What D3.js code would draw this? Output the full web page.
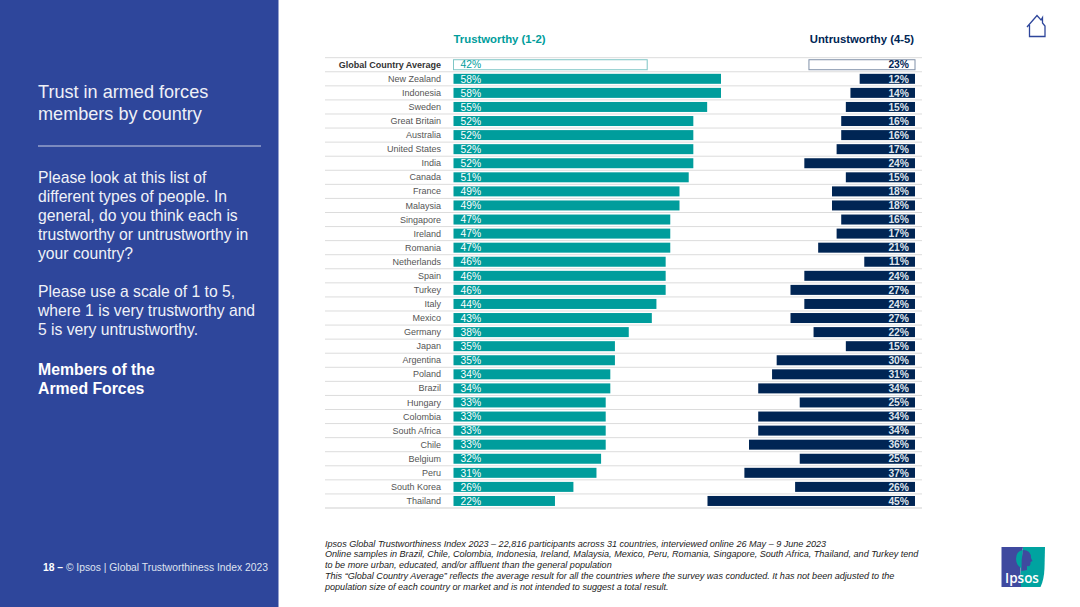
<!DOCTYPE html>
<html><head><meta charset="utf-8">
<script src="https://cdn.jsdelivr.net/npm/d3@7"></script>
<style>html,body{margin:0;padding:0;background:#fff}svg{display:block;font-family:"Liberation Sans",Arial,sans-serif}</style>
</head><body><div id="c"></div>
<script>
const countries=["Global Country Average","New Zealand","Indonesia","Sweden","Great Britain","Australia","United States","India","Canada","France","Malaysia","Singapore","Ireland","Romania","Netherlands","Spain","Turkey","Italy","Mexico","Germany","Japan","Argentina","Poland","Brazil","Hungary","Colombia","South Africa","Chile","Belgium","Peru","South Korea","Thailand"];
const trustworthy=[42,58,58,55,52,52,52,52,51,49,49,47,47,47,46,46,46,44,43,38,35,35,34,34,33,33,33,33,32,31,26,22];
const untrustworthy=[23,12,14,15,16,16,17,24,15,18,18,16,17,21,11,24,27,24,27,22,15,30,31,34,25,34,34,36,25,37,26,45];
const titleLines=["Trust in armed forces","members by country"];
const bodyLines=["Please look at this list of","different types of people. In","general, do you think each is","trustworthy or untrustworthy in","your country?","","Please use a scale of 1 to 5,","where 1 is very trustworthy and","5 is very untrustworthy."];
const boldLines=["Members of the","Armed Forces"];
const noteLines=["Ipsos Global Trustworthiness Index 2023 – 22,816 participants across 31 countries, interviewed online 26 May – 9 June 2023","Online samples in Brazil, Chile, Colombia, Indonesia, Ireland, Malaysia, Mexico, Peru, Romania, Singapore, South Africa, Thailand, and Turkey tend","to be more urban, educated, and/or affluent than the general population","This “Global Country Average” reflects the average result for all the countries where the survey was conducted. It has not been adjusted to the","population size of each country or market and is not intended to suggest a total result."];

const TEAL="#009d9c",NAVY="#002554",BLUE="#2e469b";
const svg=d3.select("#c").append("svg").attr("width",1080).attr("height",607);
svg.append("rect").attr("width",278.5).attr("height",607).attr("fill",BLUE);

const txt=(s,x,y,size,fill,opt={})=>svg.append("text").attr("x",x).attr("y",y).attr("font-size",size).attr("fill",fill)
  .attr("text-anchor",opt.anchor||"start").attr("font-weight",opt.weight||"normal").attr("font-style",opt.style||"normal").text(s);

titleLines.forEach((s,i)=>txt(s,38,98+i*22,18.1,"#eef0f7"));
svg.append("line").attr("x1",38).attr("x2",261).attr("y1",146).attr("y2",146).attr("stroke","#c9cfe4").attr("stroke-width",1);
bodyLines.forEach((s,i)=>{if(s)txt(s,38,183+i*19,15.7,"#f0f2f8")});
boldLines.forEach((s,i)=>txt(s,38,375+i*19,15.8,"#fff",{weight:"bold"}));
const foot=svg.append("text").attr("x",43).attr("y",571).attr("font-size",10.3).attr("fill","#dfe3f0");
foot.append("tspan").attr("font-weight","bold").attr("fill","#fff").text("18 – ");
foot.append("tspan").text("© Ipsos | Global Trustworthiness Index 2023");

const y=d3.scaleBand().domain(countries).range([57.7,508]).paddingInner(0.29).paddingOuter(0.145);
const xL=d3.scaleLinear().domain([0,58]).range([453.5,721]);
const xR=d3.scaleLinear().domain([0,45]).range([915,707.5]);

const seps=d3.range(countries.length+1).map(i=>57.7+i*y.step());
svg.selectAll("line.sep").data(seps).join("line").attr("class","sep")
  .attr("x1",325).attr("x2",922).attr("y1",d=>d).attr("y2",d=>d).attr("stroke",(d,i)=>i===countries.length?"#cfcfcf":"#dcdcdc").attr("stroke-width",1);

txt("Trustworthy (1-2)",453.5,43,11.35,TEAL,{weight:"bold"});
txt("Untrustworthy (4-5)",914,43,11.3,NAVY,{weight:"bold",anchor:"end"});

svg.selectAll("text.country").data(countries).join("text").attr("class","country")
  .attr("x",441).attr("y",d=>y(d)+y.bandwidth()/2+3.1).attr("text-anchor","end")
  .attr("font-size",9).attr("fill",(d,i)=>i?"#555":"#333").attr("font-weight",(d,i)=>i?"normal":"bold").text(d=>d);

svg.selectAll("rect.t").data(trustworthy).join("rect").attr("class","t")
  .attr("x",xL(0)).attr("y",(d,i)=>y(countries[i])).attr("width",d=>xL(d)-xL(0)).attr("height",y.bandwidth())
  .attr("fill",(d,i)=>i?TEAL:"#fff").attr("stroke",(d,i)=>i?"none":"#7fc6c6").attr("stroke-width",1);
svg.selectAll("rect.u").data(untrustworthy).join("rect").attr("class","u")
  .attr("x",d=>xR(d)).attr("y",(d,i)=>y(countries[i])).attr("width",d=>xR(0)-xR(d)).attr("height",y.bandwidth())
  .attr("fill",(d,i)=>i?NAVY:"#fff").attr("stroke",(d,i)=>i?"none":"#8090a8").attr("stroke-width",1);

svg.selectAll("text.tv").data(trustworthy).join("text").attr("class","tv")
  .attr("x",460.5).attr("y",(d,i)=>y(countries[i])+y.bandwidth()/2+3.7).attr("font-size",10.3)
  .attr("fill",(d,i)=>i?"#fff":TEAL).text(d=>d+"%");
svg.selectAll("text.uv").data(untrustworthy).join("text").attr("class","uv")
  .attr("x",909).attr("y",(d,i)=>y(countries[i])+y.bandwidth()/2+3.7).attr("text-anchor","end").attr("font-size",10.3)
  .attr("font-weight","bold").attr("fill",(d,i)=>i?"#dfe4ec":NAVY).text(d=>d+"%");

noteLines.forEach((s,i)=>txt(s,325,546.5+i*10.8,9.07,"#222",{style:"italic"}));

// home icon
svg.append("path").attr("d","M1027 27 L1037 15.5 L1041 20 L1042.5 17.5 V23 L1045 26 V36.5 H1029.5 V25")
  .attr("fill","none").attr("stroke",BLUE).attr("stroke-width",1.3);

// logo
const lg=svg.append("g");
lg.append("path").attr("d","M1023 547 H1045 L1044.5 568 Q1044 580 1040.5 587 H1019 Z").attr("fill","#00a3a0");
lg.append("path").attr("d","M1001.5 547 H1023 Q1019 567 1021 587 H1001.5 Z").attr("fill","#3f4a9f");
lg.append("path").attr("d","M1023 550 Q1016 551 1016 559 Q1016 565 1021 568 L1021.5 571 L1023 571 Q1021 560 1023 550 Z").attr("fill","#00a3a0");
lg.append("path").attr("d","M1023 550 Q1031 550 1031 558 L1032.5 561 L1030.5 562 Q1031 567 1027 566 L1027 570 L1021.5 571 Q1021 560 1023 550 Z").attr("fill","#3f4a9f");
lg.append("text").attr("x",1022).attr("y",583).attr("text-anchor","middle").attr("font-size",13.5).attr("font-weight","600").attr("font-family","'Open Sans',sans-serif").attr("fill","#fff").text("Ipsos");
</script></body></html>
